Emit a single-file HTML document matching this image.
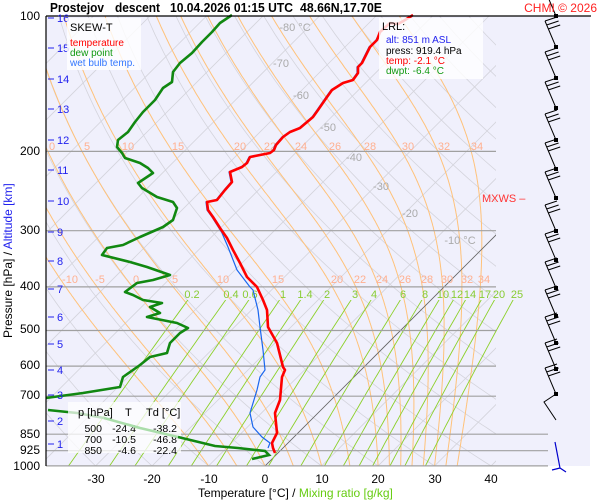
<!DOCTYPE html>
<html><head><meta charset="utf-8"><style>
body{margin:0;background:#fff;}
svg{display:block;font-family:"Liberation Sans",sans-serif;}
</style></head><body>
<svg id="s" width="600" height="500" viewBox="0 0 600 500" xmlns="http://www.w3.org/2000/svg">
<defs>
<clipPath id="c1"><rect x="46" y="16" width="450" height="450"/></clipPath>
<clipPath id="c2"><rect x="46" y="300" width="490" height="166"/></clipPath>
</defs>
<rect x="0" y="0" width="600" height="500" fill="#fff"/>
<rect x="46" y="16" width="544" height="450" fill="#f0f0fc"/>
<g id="grid" clip-path="url(#c1)"></g>
<g id="mix" clip-path="url(#c2)"></g>
<g id="press"></g>
<g font-size="11" fill="#aaa" text-anchor="middle">
<text x="295" y="31">-80 °C</text><text x="281" y="67">-70</text><text x="301" y="99">-60</text><text x="328" y="131">-50</text>
<text x="354" y="161">-40</text><text x="381" y="190">-30</text><text x="410" y="217">-20</text><text x="460" y="244">-10 °C</text>
</g>
<g font-size="11" fill="#ffb090" text-anchor="middle">
<text x="52" y="150">0</text><text x="87" y="150">5</text><text x="128" y="150">10</text><text x="178" y="150">15</text><text x="240" y="150">20</text><text x="270" y="150">22</text><text x="301" y="150">24</text><text x="335" y="150">26</text><text x="370" y="150">28</text><text x="408" y="150">30</text><text x="444" y="150">32</text><text x="477" y="150">34</text>
<text x="70" y="283">-10</text><text x="100" y="283">-5</text><text x="136" y="283">0</text><text x="175" y="283">5</text><text x="223" y="283">10</text><text x="278" y="283">15</text><text x="337" y="283">20</text><text x="360" y="283">22</text><text x="382" y="283">24</text><text x="405" y="283">26</text><text x="427" y="283">28</text><text x="447" y="283">30</text><text x="467" y="283">32</text><text x="484" y="283">34</text>
</g>
<g font-size="11" fill="#88cc33" text-anchor="middle">
<text x="192" y="298">0.2</text><text x="231" y="298">0.4</text><text x="250" y="298">0.6</text><text x="283" y="298">1</text><text x="305" y="298">1.4</text><text x="327" y="298">2</text><text x="355" y="298">3</text><text x="374" y="298">4</text><text x="403" y="298">6</text><text x="425" y="298">8</text><text x="443" y="298">10</text><text x="457" y="298">12</text><text x="470" y="298">14</text><text x="485" y="298">17</text><text x="499" y="298">20</text><text x="517" y="298">25</text>
</g>
<g id="traces"></g>
<g id="wind"></g>
<line x1="46" y1="16" x2="591" y2="16" stroke="#000" stroke-width="1.2"/>
<line x1="46" y1="16" x2="46" y2="466" stroke="#000" stroke-width="1.2"/>
<g font-size="12" fill="#000" text-anchor="end">
<text x="40" y="20">100</text><text x="40" y="155">200</text><text x="40" y="234">300</text><text x="40" y="290">400</text><text x="40" y="333">500</text><text x="40" y="369">600</text><text x="40" y="399">700</text><text x="40" y="438">850</text><text x="40" y="454">925</text><text x="40" y="470">1000</text>
</g>
<g font-size="11" fill="#2222ee">
<text x="57" y="22">16</text><text x="57" y="52">15</text><text x="57" y="83">14</text><text x="57" y="113">13</text><text x="57" y="144">12</text><text x="57" y="174">11</text><text x="57" y="205">10</text><text x="57" y="236">9</text><text x="57" y="265">8</text><text x="57" y="293">7</text><text x="57" y="321">6</text><text x="57" y="348">5</text><text x="57" y="374">4</text><text x="57" y="399">3</text><text x="57" y="425">2</text><text x="57" y="448">1</text>
</g>
<g stroke="#2222ee" stroke-width="1">
<path d="M48 18h6M48 48h6M48 79h6M48 109h6M48 140h6M48 170h6M48 201h6M48 232h6M48 261h6M48 289h6M48 317h6M48 344h6M48 370h6M48 395h6M48 421h6M48 444h6"/>
</g>
<g font-size="12" fill="#000" text-anchor="middle">
<text x="96" y="483">-30</text><text x="152" y="483">-20</text><text x="209" y="483">-10</text><text x="265" y="483">0</text><text x="322" y="483">10</text><text x="378" y="483">20</text><text x="435" y="483">30</text><text x="491" y="483">40</text>
</g>
<text x="198" y="497" font-size="12" fill="#000">Temperature [°C]  /  <tspan fill="#66cc11">Mixing ratio [g/kg]</tspan></text>
<text transform="translate(12,338) rotate(-90)" font-size="12" fill="#000">Pressure [hPa]  /  <tspan fill="#2222ee">Altitude [km]</tspan></text>
<g font-size="13" font-weight="bold" fill="#000" lengthAdjust="spacingAndGlyphs">
<text x="50" y="12" textLength="54" lengthAdjust="spacingAndGlyphs">Prostejov</text>
<text x="115" y="12" textLength="45" lengthAdjust="spacingAndGlyphs">descent</text>
<text x="170" y="12" textLength="123" lengthAdjust="spacingAndGlyphs">10.04.2026 01:15 UTC</text>
<text x="300" y="12" textLength="82" lengthAdjust="spacingAndGlyphs">48.66N,17.70E</text>
</g>
<text x="597" y="12" font-size="12" fill="#ff2222" text-anchor="end">CHMI © 2026</text>
<text x="482" y="202" font-size="11" fill="#ff3333">MXWS –</text>
<rect x="67" y="18" width="74" height="52" fill="#fff" fill-opacity="0.8"/>
<text x="70" y="31" font-size="11" fill="#000">SKEW-T</text>
<text x="70" y="46" font-size="10" fill="#ff0000">temperature</text>
<text x="70" y="56" font-size="10" fill="#119911">dew point</text>
<text x="70" y="66" font-size="10" fill="#3377ff">wet bulb temp.</text>
<rect x="379" y="18" width="104" height="61" fill="#fff" fill-opacity="0.8"/>
<text x="382" y="30" font-size="11" fill="#000">LRL:</text>
<text x="386" y="43" font-size="10" fill="#2222ee">alt: 851 m ASL</text>
<text x="386" y="54" font-size="10" fill="#000">press: 919.4 hPa</text>
<text x="386" y="64" font-size="10" fill="#ff0000">temp: -2.1 °C</text>
<text x="386" y="74" font-size="10" fill="#119911">dwpt: -6.4 °C</text>
<rect x="68" y="402" width="113" height="51" fill="#fff" fill-opacity="0.75"/>
<g font-size="11" fill="#000">
<text x="78" y="416">p [hPa]</text><text x="125" y="416">T</text><text x="146" y="416">Td [°C]</text>
</g>
<g font-size="10.5" fill="#000" text-anchor="end">
<text x="102" y="432">500</text><text x="136" y="432">-24.4</text><text x="177" y="432">-38.2</text>
<text x="102" y="443">700</text><text x="136" y="443">-10.5</text><text x="177" y="443">-46.8</text>
<text x="102" y="454">850</text><text x="136" y="454">-4.6</text><text x="177" y="454">-22.4</text>
</g>
<g id="traces2"></g>
</svg>
<script>
var NS="http://www.w3.org/2000/svg";
function Y(p){return 16+195.4*Math.log(p/100);}
function X(T,p){return 265+5.65*T+(466-Y(p));}
function path(g,d,st,w,extra){var e=document.createElementNS(NS,"path");e.setAttribute("d",d);e.setAttribute("fill","none");e.setAttribute("stroke",st);e.setAttribute("stroke-width",w);if(extra)for(var k in extra)e.setAttribute(k,extra[k]);document.getElementById(g).appendChild(e);}
var d="";
for(var T=-160;T<=40;T+=10){d+="M"+X(T,1000)+" "+Y(1000)+"L"+X(T,100)+" "+Y(100);}
path("grid",d,"#d4d4dc",0.8);
d="";
for(var th=-40;th<=220;th+=10){var K=th+273.15;var s="";for(var p=1000;p>=100;p-=10){var t=K*Math.pow(p/1000,0.2857)-273.15;s+=(p==1000?"M":"L")+X(t,p).toFixed(1)+" "+Y(p).toFixed(1);}d+=s;}
path("grid",d,"#d4d4dc",0.8);
function es(tc){return 6.112*Math.exp(17.67*tc/(tc+243.5));}
var tw=[-10,-5,0,5,10,15,20,22,24,26,28,30,32,34];d="";
tw.forEach(function(t0){var T=t0+273.15,p=1000,s="M"+X(t0,p).toFixed(1)+" "+Y(p).toFixed(1);
 while(p>100){var tc=T-273.15,e=es(tc),rs=0.622*e/(p-e);var Lv=2.5e6,Rd=287,cp=1005;
 var dTdp=(Rd*T+Lv*rs)/(p*(cp+Lv*Lv*rs*0.622/(Rd*T*T)));var dp=-2;T+=dTdp*dp;p+=dp;s+="L"+X(T-273.15,p).toFixed(1)+" "+Y(p).toFixed(1);}
 d+=s;});
path("grid",d,"#ffc27a",1);
path("grid","M"+X(0,1000)+" "+Y(1000)+"L"+X(0,300)+" "+Y(300),"#666",0.8);
var ws=[0.2,0.4,0.6,1,1.4,2,3,4,6,8,10,12,14,17,20,25];d="";
ws.forEach(function(w){var s="";for(var p=1000;p>=405;p-=15){var e=w*p/(622+w),l=Math.log(e/6.112),td=243.5*l/(17.67-l);s+=(p==1000?"M":"L")+X(td,p).toFixed(1)+" "+Y(p).toFixed(1);}d+=s;});
path("mix",d,"#8cd02a",0.9);
[200,300,400,500,600,700].forEach(function(p){path("press","M46 "+Y(p).toFixed(1)+"H496","#a0a0a0",1.2);});
[850,925,1000].forEach(function(p){path("press","M46 "+Y(p).toFixed(1)+"H548","#a0a0a0",1.2);});
function pl(a){return "M"+a.map(function(q){return q[0]+" "+q[1];}).join("L");}
var red=[[413,15],[405,20],[398,24],[390,23],[380,32],[377,40],[370,47],[362,63],[358,67],[358,73],[353,80],[343,83],[332,90],[327,97],[318,110],[313,117],[300,128],[290,132],[283,137],[276,145],[274,150],[270,153],[250,157],[247,163],[242,167],[230,172],[232,182],[225,190],[217,200],[207,202],[208,210],[213,217],[220,228],[227,238],[233,250],[240,263],[247,277],[257,287],[263,300],[267,310],[268,327],[277,343],[283,367],[285,370],[282,377],[280,400],[275,413],[277,433],[272,443],[273,448],[275,453]];
var blue=[[413,15],[405,20],[398,24],[390,23],[380,32],[376,40],[369,47],[361,63],[357,67],[357,73],[352,80],[342,83],[331,90],[326,97],[317,110],[312,117],[299,128],[289,132],[282,137],[275,145],[273,150],[269,153],[249,157],[246,163],[241,167],[229,172],[231,182],[224,190],[216,200],[206,202],[207,210],[212,217],[219,228],[222,233],[228,247],[237,270],[250,287],[253,290],[258,310],[260,327],[263,350],[265,370],[260,377],[257,390],[250,413],[253,427],[262,437],[270,443],[268,448]];
var green=[[232,15],[220,23],[212,32],[202,42],[192,53],[180,63],[173,72],[172,82],[163,88],[155,100],[143,112],[135,122],[128,132],[118,140],[117,147],[122,153],[125,158],[140,163],[148,168],[153,173],[138,183],[142,188],[157,197],[173,202],[177,208],[173,220],[163,227],[140,237],[123,245],[107,248],[102,255],[130,262],[147,267],[170,275],[153,280],[137,283],[125,292],[133,295],[143,300],[162,303],[150,307],[160,313],[147,317],[177,323],[188,328],[180,333],[170,343],[167,353],[150,357],[140,365],[123,377],[120,387],[83,393],[46,398]];
path("traces",pl(blue),"#1a66ee",1.2);
path("traces",pl(red),"#ff0000",2.6,{"stroke-linejoin":"round"});
path("traces",pl(green),"#118811",2.6,{"stroke-linejoin":"round"});
path("traces","M48 410L77 413L104 418","#118811",2.6);
path("traces2","M104 418L140 428L178 437","#aaddaa",2.6);
path("traces2","M178 437L215 446L238 448L265 451L269 455L252 459","#118811",2.6);
var dots=[16,47,78,108,140,169,198,231,260,288,316,343,369,394];d="";
dots.forEach(function(y,i){var x=556;d+="M"+x+" "+y+"L545 "+(y-26);
 for(var k=0;k<3;k++){var yy=y-26+k*4,xx=545+k*1.6;d+="M"+xx+" "+yy+"l12 -4";}});
path("wind",d,"#000",1);
dots.forEach(function(y){var r=document.createElementNS(NS,"rect");r.setAttribute("x",554);r.setAttribute("y",y-2);r.setAttribute("width",4);r.setAttribute("height",4);document.getElementById("wind").appendChild(r);});
path("wind","M556 420L544 402L556 394","#000",1);
path("wind","M555 442L560 468L552 470M560 468L566 472","#0000cc",1.2);
</script>
</body></html>
